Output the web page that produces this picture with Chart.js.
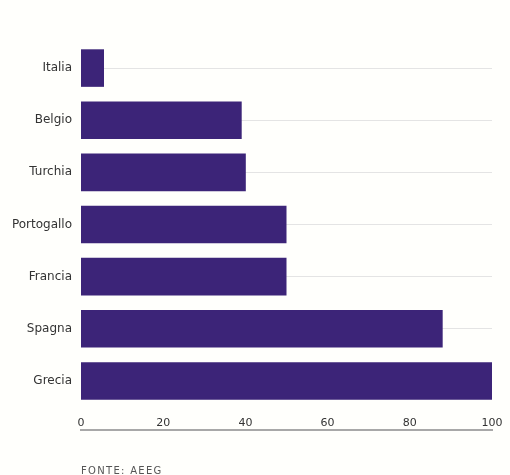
<!DOCTYPE html>
<html lang="it">
<head>
<meta charset="utf-8">
<script src="https://cdn.jsdelivr.net/npm/chart.js@4"></script>
<style>
    html, body { margin: 0; padding: 0; background: #fffffc; }
    #wrap { position: relative; width: 510px; height: 475px; overflow: hidden; }
    #source {
        position: absolute; left: 81px; top: 465px;
        font: 10px 'DejaVu Sans', sans-serif; letter-spacing: 1.3px; color: #555;
    }
</style>
</head>
<body>
<div id="wrap">
    <canvas id="chart" width="510" height="475"></canvas>
    <div id="source">FONTE: AEEG</div>
</div>
<script>
// Data
const countries = ['Italia', 'Belgio', 'Turchia', 'Portogallo', 'Francia', 'Spagna', 'Grecia'];
const values = [5.6, 39.1, 40.1, 50, 50, 88, 100];
const xTicks = [0, 20, 40, 60, 80, 100];

const barColor = '#3c2478';

document.addEventListener('DOMContentLoaded', function() {
    const ctx = document.getElementById('chart');

    new Chart(ctx, {
        type: 'bar',
        data: {
            labels: countries,
            datasets: [{
                data: values,
                backgroundColor: barColor,
                borderWidth: 0,
                categoryPercentage: 1,
                barPercentage: 0.72
            }]
        },
        options: {
            indexAxis: 'y',
            responsive: false,
            animation: false,
            layout: {
                autoPadding: false,
                padding: { top: 42, right: 18, bottom: 45, left: 0 }
            },
            plugins: {
                legend: { display: false },
                tooltip: { enabled: false }
            },
            scales: {
                y: {
                    afterFit: function(scale) { scale.width = 81; },
                    grid: {
                        offset: false,
                        drawTicks: false,
                        color: '#e4e4e4',
                        lineWidth: 1
                    },
                    border: { display: false },
                    ticks: {
                        padding: 9,
                        color: '#333',
                        font: { family: "'DejaVu Sans', sans-serif", size: 12 }
                    }
                },
                x: {
                    min: 0,
                    max: 100,
                    afterFit: function(scale) { scale.height = 23; },
                    // tick marks are hidden; their length only pushes the labels down
                    grid: { display: false, drawTicks: true, tickLength: 10 },
                    border: { display: false },
                    afterBuildTicks: function(scale) {
                        scale.ticks = xTicks.map(v => ({ value: v }));
                    },
                    ticks: {
                        padding: 0,
                        color: '#333',
                        maxRotation: 0,
                        font: { family: "'DejaVu Sans', sans-serif", size: 11 }
                    }
                },
                x2: {
                    position: 'bottom',
                    axis: 'x',
                    min: 0,
                    max: 100,
                    afterFit: function(scale) { scale.height = 0; },
                    grid: { display: false, drawTicks: false },
                    border: { display: true, color: '#a8a8a8', width: 2 },
                    ticks: { display: false }
                }
            }
        }
    });
});
</script>
</body>
</html>
